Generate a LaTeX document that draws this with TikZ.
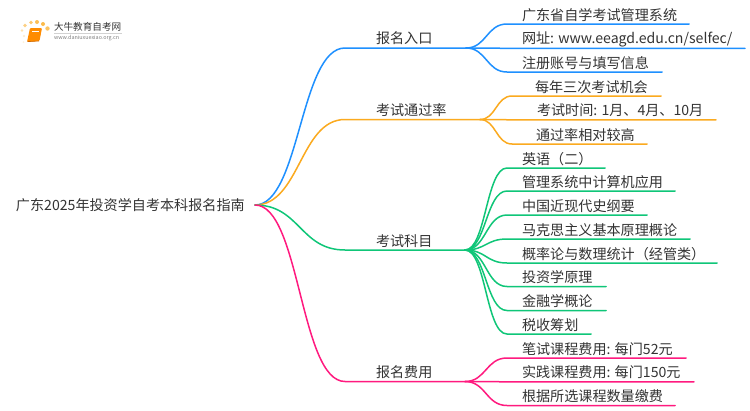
\documentclass[tikz,border=0pt]{standalone}
\usepackage{fontspec}
\setmainfont{Noto Sans CJK SC}
\usetikzlibrary{calc}
\definecolor{cblue}{HTML}{1E90FF}
\definecolor{corange}{HTML}{FBAA1F}
\definecolor{cgreen}{HTML}{0FC678}
\definecolor{cpink}{HTML}{FF1A7F}
\definecolor{ctext}{HTML}{333333}
\tikzset{
  lbl/.style={inner sep=0pt,outer sep=0pt,anchor=west,text=ctext,font=\fontsize{14.1}{16}\selectfont},
  conn/.style={line width=1.5pt,line cap=round},
}
\begin{document}
\begin{tikzpicture}[x=1pt,y=-1pt]
\useasboundingbox (0,0) rectangle (750,410);
\fill[white] (0,0) rectangle (750,410);

% logo
\foreach \px/\py/\pr/\po in {25/25.5/1.8/.55,31/22.5/1.9/.65,37/22/2/.75,43/24/2/.8,47.5/28.5/2.2/.7,22/30.5/1.4/.35,24/36/1.2/.25,23.5/42/1/.15}{
  \fill[corange,opacity=\po] (\px,\py) circle (\pr);
}
\fill[rounded corners=1pt,fill=orange!90!yellow] (30,28) -- (42,28) -- (39.5,41) -- (27,42) -- cycle;
\draw[white,line width=.5pt] (32,31) -- (39,31);
\draw[orange!80!black,line width=.6pt] (27.5,41.6) -- (39,41);
\node[lbl,text=ctext,font=\fontsize{9.6}{11}\selectfont] (logoa) at (54,27) {大牛教育自考网};
\node[lbl,text=gray,font=\fontsize{5.4}{7}\selectfont] (logob) at (54,38.5) {www.daniuxuexiao.org.cn};
\draw[gray!35,line width=.6pt] (54,33) -- (122,33);

% root
\node[lbl] (root) at (16,205) {广东2025年投资学自考本科报名指南};
\coordinate (r) at (255,205);

% bend points
\coordinate (b1) at (345,48);   \coordinate (h1) at (466,48);
\coordinate (b2) at (345,119.5);\coordinate (h2) at (480,119.5);
\coordinate (b3) at (345,250);  \coordinate (h3) at (465,250);
\coordinate (b4) at (345,381.5);\coordinate (h4) at (465,381.5);

% branch labels
\node[lbl] (n1) at (376,38.5) {报名入口};
\node[lbl] (n2) at (376,110) {考试通过率};
\node[lbl] (n3) at (376,241) {考试科目};
\node[lbl] (n4) at (376,372) {报名费用};

\foreach \col/\b/\h in {cblue/b1/h1,corange/b2/h2,cgreen/b3/h3,cpink/b4/h4}{
  \draw[conn,\col] (r) .. controls ($(r)!0.5!(\b |- r)$) and ($(r |- \b)!0.5!(\b)$) .. (\b) -- (\h);
}

% leaves: colour, hub, name, bend x, y, end x, text x, text
\newcommand{\leaf}[8]{%
  \coordinate (#3a) at (#4,#5);
  \coordinate (#3b) at (#6,#5);
  \node[lbl] (#3) at (#7,#5-9.3) {#8};
  \draw[conn,#1] (#2) .. controls ($(#2)!0.5!(#3a |- #2)$) and ($(#2 |- #3a)!0.5!(#3a)$) .. (#3a) -- (#3b);
}
\leaf{cblue}{h1}{la}{507}{24}{689}{522}{广东省自学考试管理系统}
\leaf{cblue}{h1}{lb}{507}{48.3}{745}{522}{网址: www.eeagd.edu.cn/selfec/}
\leaf{cblue}{h1}{lc}{507}{72}{662}{522}{注册账号与填写信息}

\leaf{corange}{h2}{ld}{512}{96}{661}{535}{每年三次考试机会}
\leaf{corange}{h2}{le}{512}{119.8}{716}{537}{考试时间: 1月、4月、10月}
\leaf{corange}{h2}{lf}{512}{144}{647}{536}{通过率相对较高}

\leaf{cgreen}{h3}{lg}{507}{168}{605}{522}{英语（二）}
\leaf{cgreen}{h3}{lh}{507}{191}{675}{522}{管理系统中计算机应用}
\leaf{cgreen}{h3}{li}{507}{215}{647}{522}{中国近现代史纲要}
\leaf{cgreen}{h3}{lj}{507}{239}{690}{522}{马克思主义基本原理概论}
\leaf{cgreen}{h3}{lk}{507}{263}{717}{522}{概率论与数理统计（经管类）}
\leaf{cgreen}{h3}{ll}{507}{286.5}{606}{522}{投资学原理}
\leaf{cgreen}{h3}{lm}{507}{310.5}{606}{522}{金融学概论}
\leaf{cgreen}{h3}{ln}{507}{334}{591}{522}{税收筹划}

\leaf{cpink}{h4}{lo}{507}{358}{686}{522}{笔试课程费用: 每门52元}
\leaf{cpink}{h4}{lp}{507}{381.8}{694}{522}{实践课程费用: 每门150元}
\leaf{cpink}{h4}{lq}{507}{405.5}{675}{522}{根据所选课程数量缴费}
\end{tikzpicture}
\end{document}
